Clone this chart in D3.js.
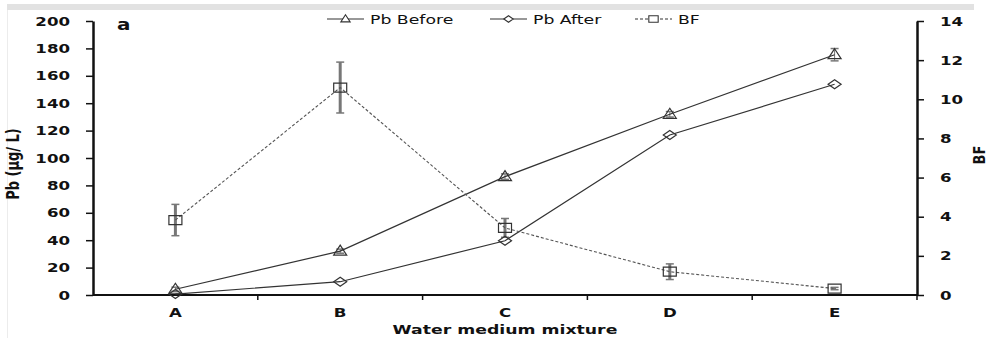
<!DOCTYPE html>
<html>
<head>
<meta charset="utf-8">
<script src="https://cdn.jsdelivr.net/npm/d3@7"></script>
<style>
  body { margin: 0; background: #fff; }
  svg text { font-family: "DejaVu Sans", Verdana, sans-serif; fill: #111; }
  .axis text { font-weight: bold; font-size: 12.5px; }
  .axis path, .axis line { stroke: #111; }
  .axis-title { font-weight: bold; font-size: 13px; }
  .legend text { font-size: 13px; }
</style>
</head>
<body>
<svg id="chart"></svg>
<script>
// categories and series
const categories = ['A', 'B', 'C', 'D', 'E'];
const pbBefore = [4.2, 32, 86.4, 131.9, 175.4];
const pbBeforeErr = [1.5, 1.5, 2, 2, 4.5];
const pbAfter = [0.7, 9.7, 39.6, 116.8, 153.8];
const bf = [3.83, 10.6, 3.43, 1.19, 0.33];
const bfErr = [0.8, 1.3, 0.48, 0.4, 0.06];
const leftTicks = [0, 20, 40, 60, 80, 100, 120, 140, 160, 180, 200];
const rightTicks = [0, 2, 4, 6, 8, 10, 12, 14];

const W = 991, H = 338;
const margin = {top: 21, right: 74, bottom: 43, left: 93};
const width = W - margin.left - margin.right;
const height = H - margin.top - margin.bottom;
const k = 1.33; // the source figure is stretched sideways

const svg = d3.select('#chart').attr('width', W).attr('height', H);

// widen a horizontal text around its anchor point
function stretch(sel) {
  sel.each(function() {
    const t = d3.select(this);
    const x = +t.attr('x') || 0;
    t.attr('x', x / k).attr('transform', `scale(${k},1)`);
  });
}

// faint frame from the source figure
svg.append('rect').attr('x', 7).attr('y', 4).attr('width', 967).attr('height', 6).attr('fill', '#e2e2e2');
svg.append('line').attr('x1', 7.5).attr('x2', 7.5).attr('y1', 10).attr('y2', H)
    .attr('stroke', '#ececec');

const chart = svg.append('g').attr('transform', `translate(${margin.left},${margin.top})`);

const xScale = d3.scaleBand().domain(categories).range([0, width]);
const xPos = d => xScale(d) + xScale.bandwidth() / 2;
const yLeft = d3.scaleLinear().domain([0, 200]).range([height, 0]);
const yRight = d3.scaleLinear().domain([0, 14]).range([height, 0]);

// x axis: ticks sit between categories
const xAxisG = chart.append('g').attr('class', 'axis x-axis')
    .attr('transform', `translate(0,${height})`);
xAxisG.append('line').attr('x1', 0).attr('x2', width).attr('stroke', '#111').attr('stroke-width', 2);
xAxisG.selectAll('.sep').data(d3.range(1, categories.length + 1))
  .join('line')
    .attr('class', 'sep')
    .attr('x1', i => i * xScale.step()).attr('x2', i => i * xScale.step())
    .attr('y1', 0).attr('y2', 5)
    .attr('stroke', '#111').attr('stroke-width', 1.5);
xAxisG.selectAll('.lab').data(categories)
  .join('text')
    .attr('class', 'lab')
    .attr('x', xPos).attr('y', 22)
    .attr('text-anchor', 'middle')
    .text(d => d)
    .call(stretch);

const leftAxis = d3.axisLeft(yLeft).tickValues(leftTicks).tickSize(7).tickSizeOuter(0).tickPadding(16);
chart.append('g').attr('class', 'axis y-axis')
    .call(leftAxis)
    .call(g => g.select('.domain').attr('stroke-width', 2.5))
    .call(g => g.selectAll('.tick line').attr('stroke-width', 1.5))
    .call(g => g.selectAll('.tick text').call(stretch));

const rightAxis = d3.axisRight(yRight).tickValues(rightTicks).tickSize(7).tickSizeOuter(0).tickPadding(16);
chart.append('g').attr('class', 'axis y-axis-r')
    .attr('transform', `translate(${width},0)`)
    .call(rightAxis)
    .call(g => g.select('.domain').attr('stroke-width', 2.5))
    .call(g => g.selectAll('.tick line').attr('stroke-width', 1.5))
    .call(g => g.selectAll('.tick text').call(stretch));

// axis titles
svg.append('text').attr('class', 'axis-title')
    .attr('x', margin.left + width / 2).attr('y', H - 4)
    .attr('text-anchor', 'middle')
    .attr('font-size', 14)
    .text('Water medium mixture')
    .call(stretch);
svg.append('text').attr('class', 'axis-title')
    .attr('transform', `translate(19,164) rotate(-90) scale(1,${k})`)
    .attr('text-anchor', 'middle')
    .attr('font-size', 12)
    .text('Pb (µg/ L)');
svg.append('text').attr('class', 'axis-title')
    .attr('transform', `translate(985,155) rotate(-90) scale(1,1.2)`)
    .attr('text-anchor', 'middle')
    .attr('font-size', 12)
    .text('BF');

svg.append('text')
    .attr('x', 117).attr('y', 30)
    .attr('font-weight', 'bold').attr('font-size', 15)
    .text('a')
    .call(stretch);

const lineCol = '#333';
const errCol = '#777';

// error bars
function errorBars(vals, errs, scale, cls, sw) {
  const g = chart.append('g').attr('class', cls);
  vals.forEach((v, i) => {
    const x = xPos(categories[i]);
    const y0 = scale(v - errs[i]), y1 = scale(v + errs[i]);
    g.append('line').attr('x1', x).attr('x2', x).attr('y1', y0).attr('y2', y1)
        .attr('stroke', errCol).attr('stroke-width', sw);
    [y0, y1].forEach(y => g.append('line').attr('x1', x - 4).attr('x2', x + 4)
        .attr('y1', y).attr('y2', y).attr('stroke', errCol).attr('stroke-width', 1.5));
  });
}
errorBars(bf, bfErr, yRight, 'err-bf', 3);
errorBars(pbBefore, pbBeforeErr, yLeft, 'err-pb', 1);

// lines
const lineL = d3.line().x((d, i) => xPos(categories[i])).y(d => yLeft(d));
const lineR = d3.line().x((d, i) => xPos(categories[i])).y(d => yRight(d));

chart.append('path').datum(pbBefore).attr('d', lineL)
    .attr('fill', 'none').attr('stroke', lineCol).attr('stroke-width', 1.2);
chart.append('path').datum(pbAfter).attr('d', lineL)
    .attr('fill', 'none').attr('stroke', lineCol).attr('stroke-width', 1.2);
chart.append('path').datum(bf).attr('d', lineR)
    .attr('fill', 'none').attr('stroke', '#555').attr('stroke-width', 1.1)
    .attr('stroke-dasharray', '3,2');

// markers
const tri = 'M0,-6L6.5,4L-6.5,4Z';
const dia = 'M-6.5,0L0,-4.5L6.5,0L0,4.5Z';
const sq = 'M-6.5,-4.5H6.5V4.5H-6.5Z';
function markers(vals, scale, path, cls) {
  chart.selectAll('.' + cls).data(vals)
    .join('path')
      .attr('class', cls)
      .attr('transform', (d, i) => `translate(${xPos(categories[i])},${scale(d)})`)
      .attr('d', path)
      .attr('fill', 'none').attr('stroke', lineCol).attr('stroke-width', 1.2);
}
markers(pbBefore, yLeft, tri, 'm-before');
markers(pbAfter, yLeft, dia, 'm-after');
markers(bf, yRight, sq, 'm-bf');

// legend
const legend = svg.append('g').attr('class', 'legend');
const items = [
  {label: 'Pb Before', x: 327, path: tri, dash: null},
  {label: 'Pb After', x: 490, path: dia, dash: null},
  {label: 'BF', x: 635, path: sq, dash: '3,2'}
];
items.forEach(it => {
  const g = legend.append('g').attr('transform', `translate(${it.x},19)`);
  g.append('line').attr('x1', 0).attr('x2', 37).attr('y1', 0).attr('y2', 0)
      .attr('stroke', lineCol).attr('stroke-width', 1.2)
      .attr('stroke-dasharray', it.dash);
  g.append('path').attr('d', it.path).attr('transform', 'translate(18.5,0) scale(0.72)')
      .attr('fill', '#fff').attr('stroke', lineCol).attr('stroke-width', 1.5);
  g.append('text').attr('x', 43).attr('y', 5).text(it.label).call(stretch);
});
</script>
</body>
</html>
